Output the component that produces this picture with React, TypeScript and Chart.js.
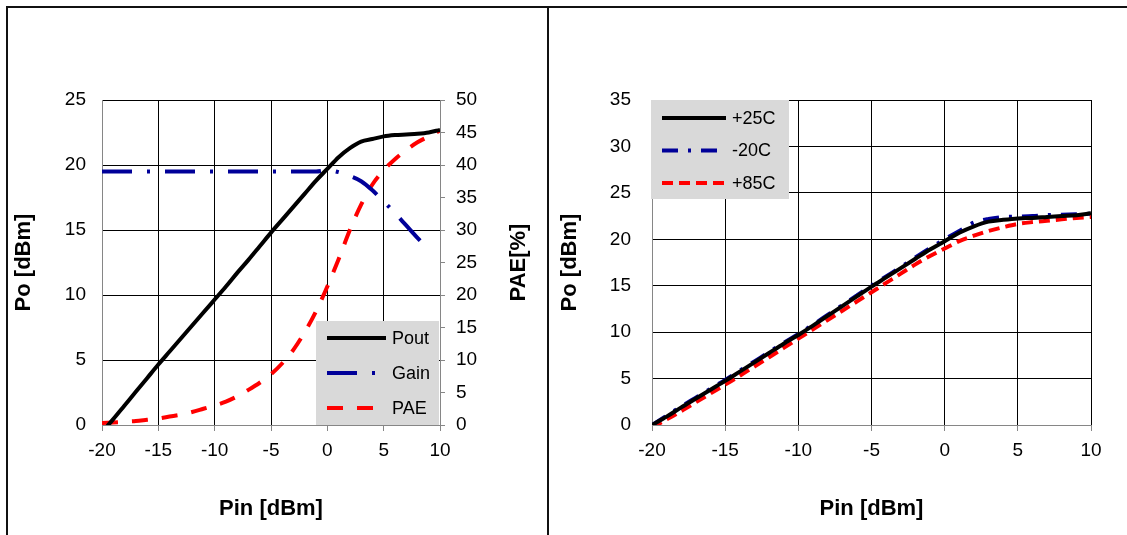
import React, { useEffect, useRef } from 'react';
import { Chart, registerables } from 'chart.js';

Chart.register(...registerables);

// ---------- data ----------
const PIN = [-20, -19, -18, -17, -16, -15, -14, -13, -12, -11, -10, -9, -8, -7, -6, -5, -4, -3, -2, -1, 0, 1, 2, 3, 4, 5, 6, 7, 8, 9, 10];

const POUT = [-0.55, 0.45, 1.5, 2.55, 3.6, 4.65, 5.65, 6.65, 7.65, 8.65, 9.65, 10.65, 11.7, 12.7, 13.75, 14.8, 15.8, 16.8, 17.8, 18.8, 19.7, 20.6, 21.3, 21.8, 22.0, 22.2, 22.3, 22.35, 22.4, 22.5, 22.7];
const GAIN = [19.5, 19.5, 19.5, 19.5, 19.5, 19.5, 19.5, 19.5, 19.5, 19.5, 19.5, 19.5, 19.5, 19.5, 19.5, 19.5, 19.5, 19.5, 19.5, 19.5, 19.6, 19.45, 19.15, 18.75, 18.05, 17.2, 16.3, 15.35, 14.4, 13.5, null];
const PAE = [0.3, 0.4, 0.5, 0.6, 0.8, 1.0, 1.3, 1.6, 2.0, 2.5, 3.0, 3.6, 4.4, 5.4, 6.5, 7.8, 9.5, 11.6, 14.3, 17.5, 21.3, 25.5, 30.0, 33.9, 37.0, 39.2, 40.9, 42.3, 43.5, 44.4, 45.3];

const T25 = [0, 0.9, 1.9, 2.85, 3.8, 4.75, 5.75, 6.75, 7.75, 8.75, 9.7, 10.7, 11.75, 12.8, 13.85, 14.9, 15.9, 16.9, 17.9, 18.9, 19.8, 20.7, 21.4, 21.9, 22.1, 22.25, 22.3, 22.4, 22.5, 22.6, 22.8];
const TM20 = [0, 1.0, 2.0, 2.95, 3.9, 4.85, 5.85, 6.85, 7.85, 8.85, 9.8, 10.8, 11.85, 12.9, 13.95, 15.0, 16.0, 17.0, 18.05, 19.05, 20.0, 20.9, 21.8, 22.2, 22.4, 22.45, 22.5, 22.6, 22.65, 22.7, 22.75];
const T85 = [-0.3, 0.6, 1.5, 2.45, 3.4, 4.35, 5.3, 6.3, 7.3, 8.3, 9.3, 10.3, 11.3, 12.3, 13.3, 14.3, 15.3, 16.3, 17.3, 18.2, 19.0, 19.8, 20.4, 20.9, 21.3, 21.65, 21.85, 22.0, 22.15, 22.3, 22.4];

const LEFT_LABELS = ['Pout', 'Gain', 'PAE'];
const RIGHT_LABELS = ['+25C', '-20C', '+85C'];
const X_TITLE = 'Pin [dBm]';
const Y_TITLE = 'Po [dBm]';
const Y2_TITLE = 'PAE[%]';

// ---------- styling ----------
const FAMILY = "'Liberation Sans', Arial, sans-serif";
const tickFont = { family: FAMILY, size: 19 };
const titleFont = { family: FAMILY, size: 22, weight: 'bold' as const };
const GRID = '#000000';
const AXIS = '#868686';
const NAVY = '#000099';
const RED = '#ff0000';

const pts = (ys: (number | null)[]) => PIN.map((x, i) => ({ x, y: ys[i] }));

// legend drawn inside the plot with a grey box
const boxLegend = {
  id: 'boxLegend',
  afterDatasetsDraw(chart: any, _args: any, opts: any) {
    if (!opts || !opts.display) return;
    const { ctx, chartArea } = chart;
    const x0 = opts.anchor === 'br' ? chartArea.right - opts.w - opts.dx : chartArea.left + opts.dx;
    const y0 = opts.anchor === 'br' ? chartArea.bottom - opts.h : chartArea.top;
    ctx.save();
    ctx.fillStyle = '#d9d9d9';
    ctx.fillRect(x0, y0, opts.w, opts.h);
    chart.data.datasets.forEach((ds: any, i: number) => {
      const y = y0 + opts.firstRow + i * opts.rowGap;
      ctx.beginPath();
      ctx.setLineDash(ds.borderDash || []);
      ctx.lineCap = 'butt';
      ctx.strokeStyle = ds.borderColor;
      ctx.lineWidth = ds.borderWidth;
      ctx.moveTo(x0 + opts.lineX1, y);
      ctx.lineTo(x0 + opts.lineX2, y);
      ctx.stroke();
      ctx.setLineDash([]);
      ctx.fillStyle = '#000';
      ctx.font = `18px ${FAMILY}`;
      ctx.textBaseline = 'middle';
      ctx.textAlign = 'left';
      ctx.fillText(ds.label, x0 + opts.textX, y + 1);
    });
    ctx.restore();
  },
};

// right axis title reading bottom-to-top
const sideTitle = {
  id: 'sideTitle',
  afterDraw(chart: any, _args: any, opts: any) {
    if (!opts || !opts.text) return;
    const { ctx, chartArea } = chart;
    ctx.save();
    ctx.translate(chartArea.right + opts.offset, (chartArea.top + chartArea.bottom) / 2);
    ctx.rotate(-Math.PI / 2);
    ctx.font = `bold 22px ${FAMILY}`;
    ctx.fillStyle = '#000';
    ctx.textAlign = 'center';
    ctx.textBaseline = 'middle';
    ctx.fillText(opts.text, 0, 0);
    ctx.restore();
  },
};

function xScale(height: number) {
  return {
    type: 'linear' as const,
    position: 'bottom' as const,
    min: -20,
    max: 10,
    ticks: { stepSize: 5, color: '#000', font: tickFont, padding: 8, maxRotation: 0, autoSkip: false },
    grid: { color: GRID, lineWidth: 1, drawTicks: true, tickLength: 6, tickColor: AXIS },
    border: { color: AXIS, width: 1 },
    title: { display: true, text: X_TITLE, color: '#000', font: titleFont, padding: { top: 4, bottom: 4 } },
    afterFit: (s: any) => {
      s.height = height;
    },
  };
}

function LeftChart() {
  const ref = useRef<HTMLCanvasElement>(null);
  useEffect(() => {
    if (!ref.current) return;
    const chart = new Chart(ref.current, {
      type: 'line',
      data: {
        datasets: [
          { label: LEFT_LABELS[0], data: pts(POUT), borderColor: '#000', borderWidth: 4, pointRadius: 0, cubicInterpolationMode: 'monotone', yAxisID: 'y' },
          { label: LEFT_LABELS[1], data: pts(GAIN), borderColor: NAVY, borderWidth: 4, borderDash: [30, 15, 3, 15], pointRadius: 0, cubicInterpolationMode: 'monotone', yAxisID: 'y' },
          { label: LEFT_LABELS[2], data: pts(PAE), borderColor: RED, borderWidth: 4, borderDash: [16, 14], pointRadius: 0, cubicInterpolationMode: 'monotone', yAxisID: 'y1' },
        ],
      },
      options: {
        responsive: false,
        animation: false,
        events: [],
        layout: { padding: { left: 7, right: 7, top: 100, bottom: 9 } },
        plugins: {
          legend: { display: false },
          tooltip: { enabled: false },
          boxLegend: { display: true, anchor: 'br', dx: 1, w: 123, h: 104, firstRow: 17, rowGap: 35, lineX1: 11, lineX2: 70, textX: 76 },
          sideTitle: { text: Y2_TITLE, offset: 79 },
        } as any,
        scales: {
          x: xScale(101),
          y: {
            type: 'linear',
            position: 'left',
            min: 0,
            max: 25,
            ticks: { stepSize: 5, color: '#000', font: tickFont, padding: 16 },
            grid: { color: GRID, lineWidth: 1, drawTicks: false },
            border: { color: AXIS, width: 1 },
            title: { display: true, text: Y_TITLE, color: '#000', font: titleFont, padding: { top: 4, bottom: 4 } },
            afterFit: (s: any) => {
              s.width = 95;
            },
          },
          y1: {
            type: 'linear',
            position: 'right',
            min: 0,
            max: 50,
            ticks: { stepSize: 5, color: '#000', font: tickFont, padding: 11 },
            grid: { drawOnChartArea: false, drawTicks: true, tickLength: 5, tickColor: AXIS },
            border: { color: AXIS, width: 1 },
            afterFit: (s: any) => {
              s.width = 100;
            },
          },
        } as any,
      },
      plugins: [boxLegend, sideTitle],
    });
    return () => chart.destroy();
  }, []);
  return <canvas ref={ref} width={547} height={535} style={{ position: 'absolute', left: 0, top: 0, width: 547, height: 535 }} />;
}

function RightChart() {
  const ref = useRef<HTMLCanvasElement>(null);
  useEffect(() => {
    if (!ref.current) return;
    const chart = new Chart(ref.current, {
      type: 'line',
      data: {
        datasets: [
          { label: RIGHT_LABELS[0], data: pts(T25), borderColor: '#000', borderWidth: 4, pointRadius: 0, cubicInterpolationMode: 'monotone' },
          { label: RIGHT_LABELS[1], data: pts(TM20), borderColor: NAVY, borderWidth: 4, borderDash: [16, 10, 3, 10], pointRadius: 0, cubicInterpolationMode: 'monotone' },
          { label: RIGHT_LABELS[2], data: pts(T85), borderColor: RED, borderWidth: 4, borderDash: [11, 6], pointRadius: 0, cubicInterpolationMode: 'monotone' },
        ],
      },
      options: {
        responsive: false,
        animation: false,
        events: [],
        layout: { padding: { left: 4, right: 36, top: 100, bottom: 9 } },
        plugins: {
          legend: { display: false },
          tooltip: { enabled: false },
          boxLegend: { display: true, anchor: 'tl', dx: -1, w: 138, h: 99, firstRow: 18, rowGap: 32.5, lineX1: 11, lineX2: 75, textX: 81 },
        } as any,
        scales: {
          x: xScale(101),
          y: {
            type: 'linear',
            position: 'left',
            min: 0,
            max: 35,
            ticks: { stepSize: 5, color: '#000', font: tickFont, padding: 21 },
            grid: { color: GRID, lineWidth: 1, drawTicks: false },
            border: { color: AXIS, width: 1 },
            title: { display: true, text: Y_TITLE, color: '#000', font: titleFont, padding: { top: 4, bottom: 4 } },
            afterFit: (s: any) => {
              s.width = 99;
            },
          },
        } as any,
      },
      plugins: [boxLegend],
    });
    return () => chart.destroy();
  }, []);
  return <canvas ref={ref} width={578} height={535} style={{ position: 'absolute', left: 549, top: 0, width: 578, height: 535 }} />;
}

export default function App() {
  return (
    <div style={{ position: 'absolute', left: 0, top: 0, width: 1127, height: 535, background: '#fff', overflow: 'hidden' }}>
      <LeftChart />
      <RightChart />
      <div style={{ position: 'absolute', left: 6, top: 6, width: 1121, height: 2, background: '#111' }} />
      <div style={{ position: 'absolute', left: 6, top: 6, width: 2, height: 529, background: '#111' }} />
      <div style={{ position: 'absolute', left: 547, top: 6, width: 2, height: 529, background: '#111' }} />
    </div>
  );
}
